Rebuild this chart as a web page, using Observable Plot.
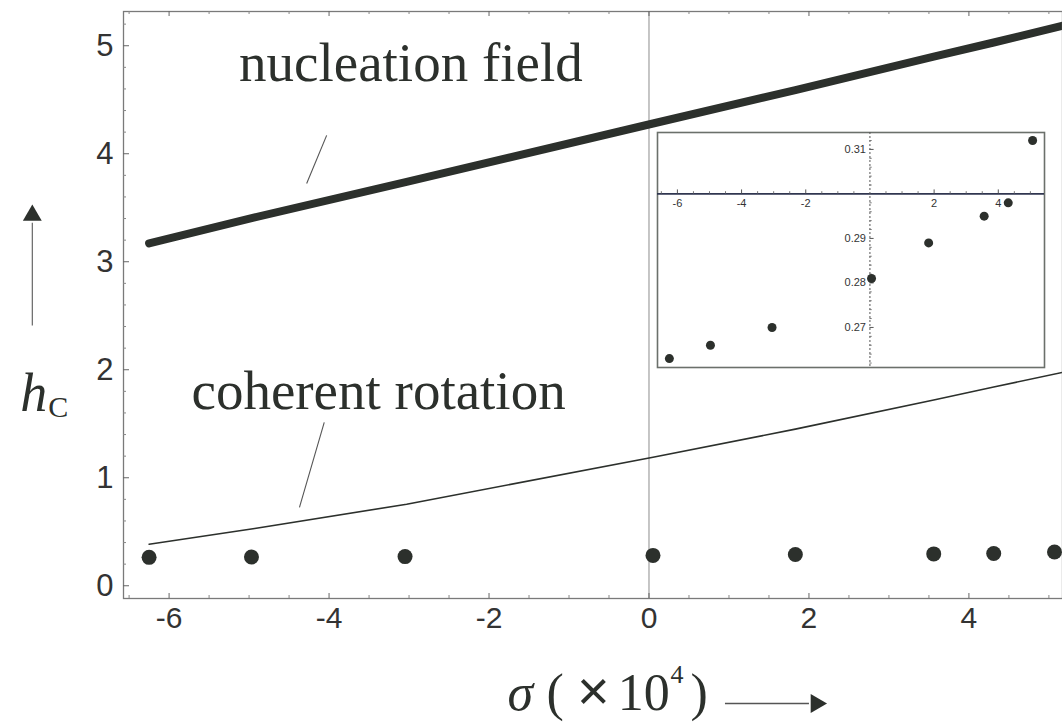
<!DOCTYPE html>
<html><head><meta charset="utf-8">
<script src="https://cdn.jsdelivr.net/npm/d3@7"></script>
<script src="https://cdn.jsdelivr.net/npm/@observablehq/plot@0.6"></script>
<style>
html,body{margin:0;padding:0;background:#fff;}
#wrap{position:relative;width:1062px;height:725px;overflow:hidden;}
#inset{position:absolute;left:657px;top:132px;}
svg{overflow:visible;}
</style></head><body><div id="wrap"><div id="main"></div><div id="inset"></div></div>
<script>
// ---- data ----
const sigma = [-6.25, -4.97, -3.05, 0.05, 1.83, 3.56, 4.31, 5.07];          // σ (×10^4) of the computed points
const hcPoints = [0.263, 0.266, 0.270, 0.281, 0.289, 0.295, 0.298, 0.312];   // h_C of the points (dots)
const curveSigma = [-6.25, -4.93, -3.03, 0.05, 1.83, 3.56, 4.31, 5.2];
const nucleationField = [3.17, 3.41, 3.74, 4.28, 4.59, 4.90, 5.03, 5.19];
const coherentRotation = [0.385, 0.53, 0.755, 1.19, 1.45, 1.72, 1.84, 1.98];
const xTicks = [-6, -4, -2, 0, 2, 4];
const yTicks = [0, 1, 2, 3, 4, 5];
const insetXTicks = [-6, -4, -2, 2, 4];
const insetYTicks = [0.27, 0.28, 0.29, 0.31];
const labelNucleation = "nucleation field";
const labelCoherent = "coherent rotation";

// ---- tables ----
const points = sigma.map((s, i) => ({s, v: hcPoints[i]}));
const nuc = curveSigma.map((s, i) => ({s, v: nucleationField[i]}));
const coh = curveSigma.map((s, i) => ({s, v: coherentRotation[i]}));
const xMinor = d3.range(-6.5, 5.01, 0.5).filter(d => !xTicks.includes(d));
const yMinor = d3.range(0, 5.31, 0.2).map(d => +d.toFixed(1)).filter(d => !yTicks.includes(d));
const ixMinor = d3.range(-6.5, 5.41, 0.5).filter(d => !xTicks.includes(d));
const iyMinor = d3.range(0.262, 0.3135, 0.002).map(d => +d.toFixed(3)).filter(d => ![0.27,0.28,0.29,0.30,0.31].includes(d));

const ink = "#2c302c";
const W = 1062, H = 725, mL = 123, mR = 0, mT = 11, mB = 127;
const fw = W - mL - mR, fh = H - mT - mB;
const serif = "'Liberation Serif', 'Times New Roman', serif";
const xlabY = -1.155;

const main = Plot.plot({
  width: W, height: H,
  marginLeft: mL, marginRight: mR, marginTop: mT, marginBottom: mB,
  x: {domain: [-6.57, 5.17], axis: null},
  y: {domain: [-0.118, 5.317], axis: null},
  style: {fontFamily: "'Liberation Sans', Arial, sans-serif", background: "white", overflow: "visible"},
  marks: [
    Plot.ruleX([0], {stroke: "#8c8c8c", strokeWidth: 1}),
    Plot.line(coh, {x: "s", y: "v", stroke: ink, strokeWidth: 1.6, clip: true}),
    Plot.line(nuc, {x: "s", y: "v", stroke: ink, strokeWidth: 8, strokeLinecap: "round", clip: true}),
    Plot.dot(points, {x: "s", y: "v", r: 7.5, fill: ink}),
    Plot.frame({stroke: "#7a7a7a", strokeWidth: 1.3}),
    // frame ticks (inward), bottom & top
    Plot.tickX(xTicks, {x: d => d, insetTop: fh - 5, stroke: "#666"}),
    Plot.tickX(xMinor, {x: d => d, insetTop: fh - 3, stroke: "#888"}),
    Plot.tickX(xTicks, {x: d => d, insetBottom: fh - 5, stroke: "#666"}),
    Plot.tickX(xMinor, {x: d => d, insetBottom: fh - 3, stroke: "#888"}),
    // left ticks
    Plot.tickY(yTicks, {y: d => d, insetRight: fw - 6, stroke: "#666"}),
    Plot.tickY(yMinor, {y: d => d, insetRight: fw - 3, stroke: "#888"}),
    // tick labels
    Plot.text(xTicks, {x: d => d, frameAnchor: "bottom", dy: 29, text: d => String(d), fontSize: 30, fill: "#333"}),
    Plot.text(yTicks, {y: d => d, frameAnchor: "left", dx: -10, textAnchor: "end", text: d => String(d), fontSize: 31, fill: "#333"}),
    // curve labels and pointers
    Plot.text([labelNucleation], {x: -5.125, y: 4.678, text: d => d, textAnchor: "start", lineAnchor: "bottom", fontSize: 55, fontFamily: serif, fill: ink}),
    Plot.text([labelCoherent], {x: -5.72, y: 1.641, text: d => d, textAnchor: "start", lineAnchor: "bottom", fontSize: 55, fontFamily: serif, fill: ink}),
    Plot.link([0], {x1: -4.03, y1: 4.17, x2: -4.28, y2: 3.725, stroke: "#555", strokeWidth: 1.1}),
    Plot.link([0], {x1: -4.06, y1: 1.512, x2: -4.37, y2: 0.725, stroke: "#555", strokeWidth: 1.1}),
    // y axis label with arrow
    Plot.link([0], {x1: -7.71, y1: 2.41, x2: -7.71, y2: 3.36, stroke: "#666", strokeWidth: 1.2}),
    Plot.dot([0], {x: -7.71, y: 3.43, symbol: "triangle", r: 7, fill: ink, stroke: "none"}),
    Plot.text(["h"], {x: -7.86, y: 1.62, text: d => d, textAnchor: "start", lineAnchor: "bottom", fontSize: 54, fontStyle: "italic", fontFamily: serif, fill: ink}),
    Plot.text(["C"], {x: -7.51, y: 1.56, text: d => d, textAnchor: "start", lineAnchor: "bottom", fontSize: 30, fontFamily: serif, fill: ink}),
    // x axis label with arrow
    Plot.text(["σ"], {x: -1.77, y: xlabY, text: d => d, textAnchor: "start", lineAnchor: "bottom", fontSize: 52, fontStyle: "italic", fontFamily: serif, fill: ink}),
    Plot.text(["("], {x: -1.28, y: xlabY, text: d => d, textAnchor: "start", lineAnchor: "bottom", fontSize: 52, fontFamily: serif, fill: ink}),
    Plot.text(["×"], {x: -0.90, y: xlabY, text: d => d, textAnchor: "start", lineAnchor: "bottom", fontSize: 56, fontFamily: "'Liberation Sans', Arial, sans-serif", fill: ink}),
    Plot.text(["10"], {x: -0.39, y: xlabY, text: d => d, textAnchor: "start", lineAnchor: "bottom", fontSize: 52, fontFamily: serif, fill: ink}),
    Plot.text(["4"], {x: 0.27, y: -0.90, text: d => d, textAnchor: "start", lineAnchor: "bottom", fontSize: 26, fontFamily: serif, fill: ink}),
    Plot.text([")"], {x: 0.52, y: xlabY, text: d => d, textAnchor: "start", lineAnchor: "bottom", fontSize: 52, fontFamily: serif, fill: ink}),
    Plot.link([0], {x1: 0.95, y1: -1.09, x2: 2.0, y2: -1.09, stroke: "#555", strokeWidth: 1.4}),
    Plot.dot([0], {x: 2.09, y: -1.09, symbol: "triangle", r: 7, rotate: 90, fill: ink, stroke: "none"})
  ]
});
document.getElementById("main").append(main);

const inset = Plot.plot({
  width: 387, height: 235, margin: 0,
  x: {domain: [-6.62, 5.44], axis: null},
  y: {domain: [0.2610, 0.3138], axis: null},
  style: {fontFamily: "'Liberation Sans', Arial, sans-serif", background: "white", overflow: "visible"},
  marks: [
    Plot.frame({stroke: "#6b706b", strokeWidth: 1.6}),
    Plot.ruleY([0.30], {stroke: "#303650", strokeWidth: 1.6}),
    Plot.ruleX([0], {stroke: "#555", strokeWidth: 1, strokeDasharray: "2,2"}),
    Plot.ruleX(xTicks.filter(d => d !== 0), {x: d => d, y1: 0.30, y2: 0.3009, stroke: "#555"}),
    Plot.ruleX(ixMinor, {x: d => d, y1: 0.30, y2: 0.3005, stroke: "#777"}),
    Plot.ruleY(insetYTicks, {y: d => d, x1: 0, x2: 0.13, stroke: "#555"}),
    Plot.ruleY(iyMinor, {y: d => d, x1: 0, x2: 0.07, stroke: "#777"}),
    Plot.text(insetXTicks, {x: d => d, y: 0.30, dy: 10, text: d => String(d), fontSize: 11, fill: "#333"}),
    Plot.text(insetYTicks, {x: 0, y: d => d, dx: -4, textAnchor: "end", text: d => d.toFixed(2), fontSize: 11, fill: "#333"}),
    Plot.dot(points, {x: "s", y: "v", r: 4.5, fill: ink})
  ]
});
document.getElementById("inset").append(inset);
</script>
</body></html>
